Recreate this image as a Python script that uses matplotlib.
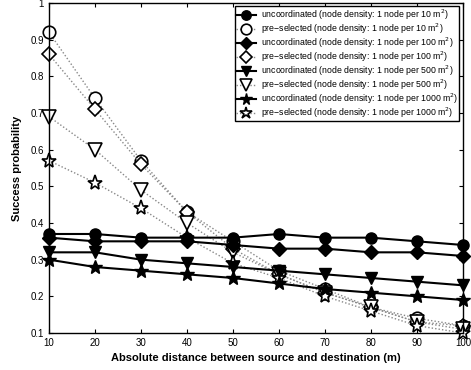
import matplotlib
matplotlib.use("Agg")
import matplotlib.pyplot as plt

distance = [10, 20, 30, 40, 50, 60, 70, 80, 90, 100]

unc_10 = [0.37, 0.37, 0.36, 0.36, 0.36, 0.37, 0.36, 0.36, 0.35, 0.34]
pre_10 = [0.92, 0.74, 0.57, 0.43, 0.35, 0.27, 0.22, 0.17, 0.14, 0.12]
unc_100 = [0.36, 0.35, 0.35, 0.35, 0.34, 0.33, 0.33, 0.32, 0.32, 0.31]
pre_100 = [0.86, 0.71, 0.56, 0.43, 0.33, 0.26, 0.21, 0.17, 0.13, 0.12]
unc_500 = [0.32, 0.32, 0.30, 0.29, 0.28, 0.27, 0.26, 0.25, 0.24, 0.23]
pre_500 = [0.69, 0.60, 0.49, 0.40, 0.32, 0.26, 0.21, 0.17, 0.13, 0.11]
unc_1000 = [0.30, 0.28, 0.27, 0.26, 0.25, 0.235, 0.22, 0.21, 0.20, 0.19]
pre_1000 = [0.57, 0.51, 0.44, 0.36, 0.29, 0.25, 0.20, 0.16, 0.12, 0.10]

labels = [
    "uncoordinated (node density: 1 node per 10 m$^2$)",
    "pre\u2212selected (node density: 1 node per 10 m$^2$)",
    "uncoordinated (node density: 1 node per 100 m$^2$)",
    "pre\u2212selected (node density: 1 node per 100 m$^2$)",
    "uncoordinated (node density: 1 node per 500 m$^2$)",
    "pre\u2212selected (node density: 1 node per 500 m$^2$)",
    "uncoordinated (node density: 1 node per 1000 m$^2$)",
    "pre\u2212selected (node density: 1 node per 1000 m$^2$)",
]
series = [unc_10, pre_10, unc_100, pre_100, unc_500, pre_500, unc_1000, pre_1000]
markers = ["o", "o", "D", "D", "v", "v", "*", "*"]
msizes = [8, 9, 7, 7.5, 9, 10, 10, 11]

plt.rcParams["font.family"] = ["Liberation Sans", "DejaVu Sans"]
fig = plt.figure(figsize=(4.71, 3.70), dpi=100)
ax = fig.add_axes([0.104, 0.1, 0.879, 0.892])

for i, (vals, m, lab, ms) in enumerate(zip(series, markers, labels, msizes)):
    if i % 2 == 0:
        ax.plot(distance, vals, color="black", lw=1.5, marker=m, ms=ms,
                mfc="black", mec="black", label=lab, clip_on=False, zorder=3)
    else:
        ax.plot(distance, vals, color="#888888", lw=1.0, ls=(0, (1, 1.5)),
                marker=m, ms=ms, mfc="white", mec="black", mew=1.2,
                label=lab, clip_on=False, zorder=2)

ax.set_xlim(10, 100)
ax.set_ylim(0.1, 1.0)
ax.set_xticks(distance)
ax.set_yticks([0.1, 0.2, 0.3, 0.4, 0.5, 0.6, 0.7, 0.8, 0.9, 1.0])
ax.set_yticklabels(["0.1", "0.2", "0.3", "0.4", "0.5", "0.6", "0.7", "0.8", "0.9", "1"])
ax.tick_params(direction="in", top=True, right=True, labelsize=7, length=3, width=0.8)
for s in ax.spines.values():
    s.set_linewidth(1.0)

ax.set_xlabel("Absolute distance between source and destination (m)",
              fontsize=8, fontweight="bold", labelpad=4)
ax.set_ylabel("Success probability", fontsize=8, fontweight="bold", labelpad=6)

leg = ax.legend(loc="upper right", fontsize=6.3, frameon=True, fancybox=False,
                edgecolor="black", framealpha=1, borderpad=0.15, labelspacing=-0.05,
                handlelength=2.2, handletextpad=0.6, borderaxespad=0.4,
                markerscale=0.85)
leg.get_frame().set_linewidth(1.0)

fig.savefig("out.png", dpi=100)
